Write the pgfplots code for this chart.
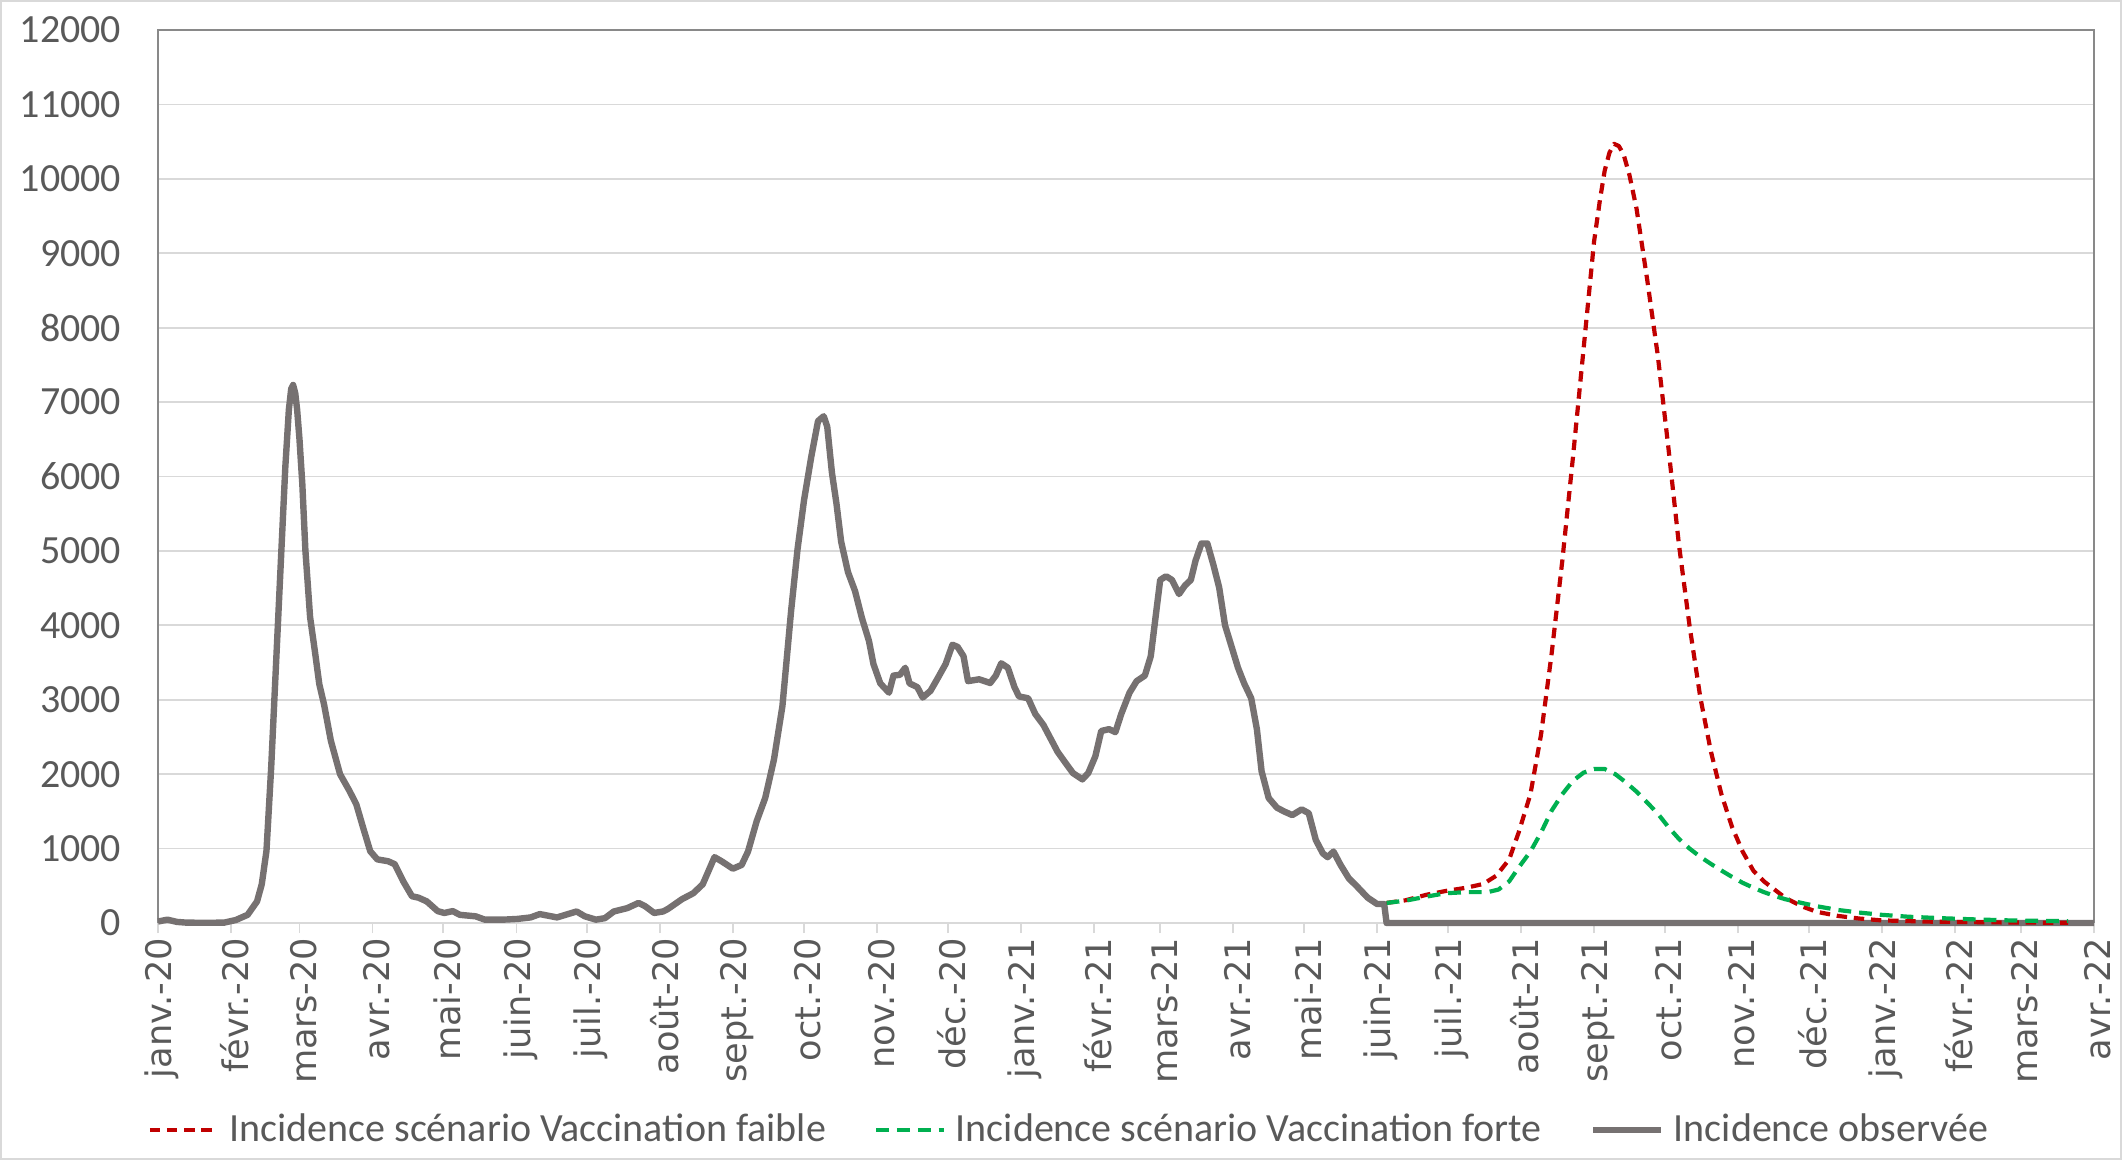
\documentclass[border=0pt]{standalone}
\usepackage{pgfplots}
\pgfplotsset{compat=1.18}
\usepackage{fontspec}
\setmainfont{Carlito}
\newfontfamily\xlabfont{DejaVu Sans}
\definecolor{obs}{HTML}{767171}
\definecolor{red1}{HTML}{C00000}
\definecolor{grn}{HTML}{00B050}
\definecolor{gridc}{HTML}{D9D9D9}
\definecolor{txt}{HTML}{595959}
\definecolor{framec}{HTML}{898989}
\begin{document}
\begin{tikzpicture}
\useasboundingbox (-39.5pt,-59.25pt) rectangle (491pt,230.75pt);
\draw[gridc, line width=0.5pt] (-39.25pt,-59pt) rectangle (490.75pt,230.5pt);
\begin{axis}[
  at={(0,0)}, anchor=south west,
  scale only axis, width=484pt, height=223.25pt,
  xmin=0, xmax=821, ymin=0, ymax=12000,
  clip=false,
  scaled y ticks=false,
  axis line style={draw=none},
  ytick={0,1000,...,12000},
  ymajorgrids, grid style={gridc, line width=0.45pt},
  xtick={0,31,60,91,121,152,182,213,244,274,305,335,366,397,425,456,486,517,547,578,609,639,670,700,731,762,790,821},
  xticklabels={janv.-20,févr.-20,mars-20,avr.-20,mai-20,juin-20,juil.-20,août-20,sept.-20,oct.-20,nov.-20,déc.-20,janv.-21,févr.-21,mars-21,avr.-21,mai-21,juin-21,juil.-21,août-21,sept.-21,oct.-21,nov.-21,déc.-21,janv.-22,févr.-22,mars-22,avr.-22},
  tick pos=left, tick align=outside,
  major tick length=2.5pt,
  xtick style={draw=gridc, line width=0.45pt},
  ytick style={draw=none},
  yticklabel style={font=\fontsize{10}{12}\selectfont, text=txt, anchor=east, inner sep=0pt, xshift=-6.5pt},
  xticklabel style={font=\xlabfont\fontsize{8.8}{10}\selectfont, text=txt, xshift=1pt, yshift=-1pt, rotate=90, anchor=east, inner sep=0pt},
  /pgf/number format/assume math mode=true,
  /pgf/number format/1000 sep={},
  legend columns=3,
  legend image code/.code={\draw[#1] (0pt,0pt) -- (17pt,0pt);},
  legend style={at={(0.470,-0.232)}, anchor=center, draw=none, fill=none,
    font=\fontsize{10}{12}\selectfont, text=txt,
    nodes={inner sep=0pt},
    /tikz/every odd column/.append style={column sep=2.4pt},
    /tikz/every even column/.append style={column sep=12pt}},
]
\draw[framec, line width=0.5pt] (rel axis cs:0,0) -- (rel axis cs:0,1) -- (rel axis cs:1,1) -- (rel axis cs:1,0);
\draw[gridc, line width=0.5pt] (rel axis cs:0,0) -- (rel axis cs:1,0);

\addplot[obs, line width=1.6pt, line join=round, forget plot] coordinates {
(0,20)(4,45)(8,15)(12,5)(20,3)(28,5)(33,40)(38,110)(42,290)(44,520)(46,970)(48,2090)(50,3440)(52,4790)(54,6130)(55.5,6900)(56.5,7180)(57.3,7230)(58.2,7120)(59,6900)(60,6500)(61.2,5900)(62.5,5010)(64.5,4110)(66.5,3660)(68.4,3210)(70.4,2940)(73.3,2450)(77.2,2000)(81.2,1775)(84.1,1595)(87,1280)(90,965)(93,855)(97.6,830)(100.4,790)(104,560)(107.7,360)(110.5,340)(114,290)(118.6,160)(121.4,135)(125,160)(128,110)(134.7,90)(138.6,45)(146.4,45)(152.5,55)(158,75)(161.9,120)(169.2,75)(177.5,155)(181,90)(185.7,45)(189.5,65)(193.3,155)(199,200)(203.8,270)(206.6,225)(210.4,135)(214.2,155)(216.3,190)(222.2,320)(227,400)(231,520)(236,885)(239,830)(243.8,730)(247.5,780)(250.2,960)(253.9,1370)(257.5,1680)(261.2,2195)(264.8,2915)(268.5,4200)(271.2,5020)(274,5690)(277,6260)(279.9,6745)(282.3,6810)(283.8,6670)(285.8,6050)(287.7,5640)(289.7,5125)(292.6,4715)(295.6,4460)(298.5,4100)(301.5,3790)(303.4,3480)(306.3,3220)(310,3095)(311.9,3325)(314.6,3335)(316.9,3430)(318.7,3220)(322,3170)(324.3,3030)(327.6,3120)(330.4,3275)(334,3480)(336.9,3740)(339.1,3710)(341.6,3585)(343.5,3250)(348.2,3275)(352.9,3225)(355.3,3325)(357.6,3490)(360.4,3430)(363.2,3170)(365.1,3045)(369,3020)(372,2810)(375.5,2660)(378.5,2480)(381.5,2300)(385,2145)(388,2015)(392,1930)(394.5,2015)(397.5,2240)(400,2580)(403.3,2605)(406,2565)(408.5,2810)(412,3095)(415,3250)(418.5,3325)(421,3585)(423,4100)(425,4610)(427.5,4660)(430,4610)(433,4420)(435.5,4535)(438,4610)(440,4870)(442.5,5100)(445,5100)(447.5,4820)(450,4510)(452.5,4000)(455.5,3690)(458,3430)(460.6,3220)(463.6,3020)(466,2605)(468,2040)(471,1680)(474.5,1550)(477.5,1500)(481,1450)(485,1527)(488,1475)(491,1115)(494,935)(496,885)(498.5,960)(501.5,780)(505,600)(508.5,490)(513,340)(517,255)(520,255)(521,0)(821,0)
};

\addplot[red1, line width=1.05pt, dash pattern=on 2.6pt off 1.7pt, line join=round] coordinates {
(521,270)(529,305)(538,380)(546,430)(555,475)(562,525)(567.5,635)(573,855)(577,1215)(582,1730)(586.5,2530)(591,3620)(595.5,4860)(600,6245)(604.5,7700)(609,9160)(611.5,9720)(613.5,10110)(615.5,10350)(617.5,10470)(619.5,10440)(621.5,10330)(624,10050)(627,9600)(631.5,8650)(636,7630)(640.5,6390)(645,5080)(649.5,3990)(654,3040)(658.5,2310)(663,1730)(667.5,1290)(672,960)(676.5,705)(681,560)(685.5,450)(690,340)(697,225)(703.5,150)(712.5,95)(721.5,60)(731,35)(752,18)(785,7)(810,3)
};
\addlegendentry{Incidence scénario Vaccination faible}

\addplot[grn, line width=1.05pt, dash pattern=on 3.2pt off 2pt, line join=round] coordinates {
(521,270)(529,300)(538,355)(546,400)(555,415)(564,415)(568.5,450)(573,560)(577,745)(582,960)(586.5,1215)(591,1510)(595.5,1730)(600,1910)(604.5,2020)(609,2070)(613.5,2070)(618,2000)(622.5,1890)(627,1765)(631.5,1620)(636,1470)(640.5,1290)(645,1130)(649.5,1000)(654,890)(658.5,795)(663,705)(667.5,620)(672,540)(676.5,475)(681,415)(685.5,365)(690,320)(697,270)(703.5,225)(712.5,175)(721.5,140)(731,110)(742,85)(756,65)(769,50)(785,35)(796,30)(810,25)
};
\addlegendentry{Incidence scénario Vaccination forte}

\addlegendimage{obs, line width=1.6pt}
\addlegendentry{Incidence observée}
\end{axis}
\end{tikzpicture}
\end{document}
